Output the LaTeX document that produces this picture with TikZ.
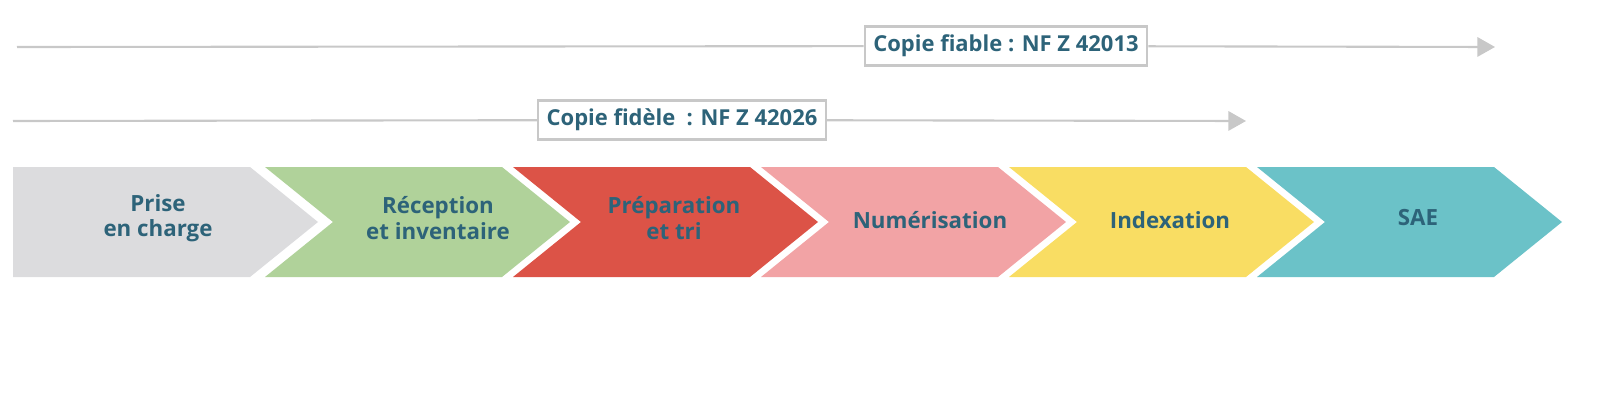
\documentclass[tikz,border=0pt]{standalone}
\usepackage{fontspec}
\setmainfont{Open Sans}
\usetikzlibrary{arrows.meta, positioning}
\definecolor{txtblue}{HTML}{2D6379}
\definecolor{linegray}{HTML}{C8C8C8}
\definecolor{stepgray}{HTML}{DCDCDE}
\definecolor{stepgreen}{HTML}{B0D29A}
\definecolor{stepred}{HTML}{DC5347}
\definecolor{steppink}{HTML}{F2A3A5}
\definecolor{stepyellow}{HTML}{F9DD63}
\definecolor{stepteal}{HTML}{6BC2C8}
\begin{document}
\begin{tikzpicture}[x=0.02cm, y=-0.02cm]
        \tikzset{
            step text/.style={text=txtblue, font=\fontsize{12.7}{14.5}\selectfont\bfseries, align=center}, % labels in the chevrons
            norm box/.style={draw=linegray, line width=1.2pt, fill=white, text=txtblue, font=\fontsize{12.5}{14}\selectfont\bfseries, minimum height=0.78cm, inner xsep=5pt}, % standard boxes
            norm line/.style={draw=linegray, line width=1.2pt}, % timeline
            }

        % chevrons
        \fill[stepgray] (13,167) -- (250,167) -- (318,222) -- (250,277) -- (13,277) -- cycle;
        \foreach \x/\col in {265/stepgreen, 513/stepred, 761/steppink, 1009/stepyellow, 1257/stepteal}
            \fill[\col] (\x,167) -- (\x+237,167) -- (\x+305,222) -- (\x+237,277) -- (\x,277) -- (\x+68,222) -- cycle;

        % labels
        \node[step text] (prise) at (158,218) {Prise\\en charge};
        \node[step text] (reception) at (438,218) {Réception\\et inventaire};
        \node[step text] (preparation) at (674,218) {Préparation\\et tri};
        \node[step text] (numerisation) at (930,220) {Numérisation};
        \node[step text] (indexation) at (1170,220) {Indexation};
        \node[step text] (sae) at (1418,218) {SAE};

        % norms
        \coordinate (fiable_start) at (17,47);
        \coordinate (fiable_end) at (1495,47);
        \node[norm box] (fiable) at (1006,46) {Copie fiable : NF Z 42013};
        \coordinate (fidele_start) at (13,121);
        \coordinate (fidele_end) at (1246,121);
        \node[norm box] (fidele) at (682,120) {Copie fidèle~~: NF Z 42026};

        \draw[norm line] (fiable_start) -- (fiable);
        \draw[norm line, -{Triangle[length=10pt, width=11pt]}, color=linegray] (fiable) -- (fiable_end);
        \draw[norm line] (fidele_start) -- (fidele);
        \draw[norm line, -{Triangle[length=10pt, width=11pt]}, color=linegray] (fidele) -- (fidele_end);

        \pgfresetboundingbox
        \useasboundingbox (0,0) rectangle (1600,409);
    \end{tikzpicture}
\end{document}
